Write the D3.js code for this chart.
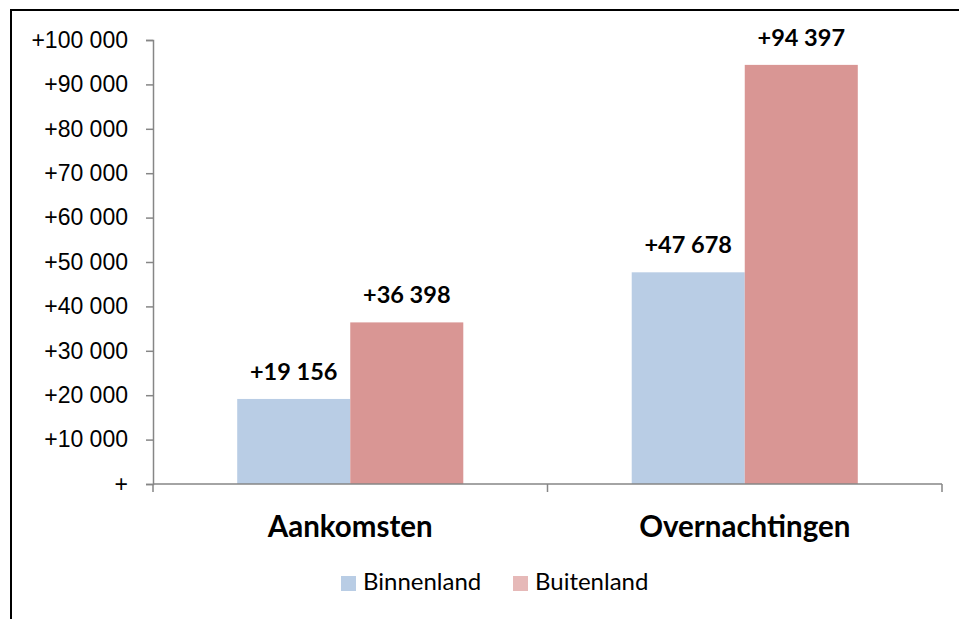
<!DOCTYPE html>
<html>
<head>
<meta charset="utf-8">
<script src="https://cdn.jsdelivr.net/npm/d3@7"></script>
<style>
  body { margin: 0; background: #fff; }
  svg { font-family: Lato, "Open Sans", sans-serif; }
</style>
</head>
<body>
<div id="chart"></div>
<script>
const categories = ["Aankomsten", "Overnachtingen"];
const series = ["Binnenland", "Buitenland"];
const binnenland = [19156, 47678];
const buitenland = [36398, 94397];
const yTicks = [0, 10000, 20000, 30000, 40000, 50000, 60000, 70000, 80000, 90000, 100000];

const colors = { Binnenland: "#B9CDE5", Buitenland: "#D99694" };
const legendColors = { Binnenland: "#B9CDE5", Buitenland: "#E6B9B8" };

const W = 959, H = 619;
const margin = { top: 40, right: 17, bottom: 135, left: 153 };
const width = W - margin.left - margin.right;
const height = H - margin.top - margin.bottom;

const svg = d3.select("#chart").append("svg")
  .attr("width", W)
  .attr("height", H);

// outer frame (right and bottom edges fall outside the picture)
svg.append("rect")
  .attr("x", 11).attr("y", 10)
  .attr("width", W + 10).attr("height", H + 10)
  .attr("fill", "none")
  .attr("stroke", "#000")
  .attr("stroke-width", 2);

const g = svg.append("g")
  .attr("transform", `translate(${margin.left},${margin.top})`);

const nl = d3.formatLocale({ decimal: ",", thousands: " ", grouping: [3], currency: ["", ""] });
const fmt = d => d === 0 ? "+" : "+" + nl.format(",")(d);

const y = d3.scaleLinear().domain([0, 100000]).range([height, 0]);

const x0 = d3.scaleBand().domain(categories).range([0, width]).paddingInner(0).paddingOuter(0);
const x1 = d3.scaleBand().domain(series).range([0, x0.bandwidth()]).paddingInner(0).paddingOuter(0.745);

const data = categories.map((c, i) => ({
  category: c,
  values: [
    { key: "Binnenland", value: binnenland[i] },
    { key: "Buitenland", value: buitenland[i] }
  ]
}));

// Y axis
const yAxis = g.append("g")
  .call(d3.axisLeft(y).tickValues(yTicks).tickFormat(fmt).tickSize(7).tickPadding(18));
yAxis.selectAll("line").attr("stroke", "#868686").attr("stroke-width", 1.5);
yAxis.select(".domain").attr("stroke", "#868686").attr("stroke-width", 1.5);
yAxis.selectAll("text").attr("font-size", 23).attr("fill", "#000");

// Bars
const groups = g.selectAll(".group")
  .data(data)
  .join("g")
  .attr("class", "group")
  .attr("transform", d => `translate(${x0(d.category)},0)`);

groups.selectAll("rect")
  .data(d => d.values)
  .join("rect")
  .attr("x", d => x1(d.key))
  .attr("y", d => y(d.value))
  .attr("width", x1.bandwidth())
  .attr("height", d => height - y(d.value))
  .attr("fill", d => colors[d.key]);

groups.selectAll(".value")
  .data(d => d.values)
  .join("text")
  .attr("class", "value")
  .attr("x", d => x1(d.key) + x1.bandwidth() / 2)
  .attr("y", d => y(d.value) - 19)
  .attr("text-anchor", "middle")
  .attr("font-size", 23.5)
  .attr("font-weight", "bold")
  .text(d => fmt(d.value));

// X axis
const xAxisG = g.append("g").attr("transform", `translate(0,${height})`);
xAxisG.append("line")
  .attr("x1", 0).attr("x2", width)
  .attr("stroke", "#868686").attr("stroke-width", 1.5);
xAxisG.selectAll(".xtick")
  .data([0, ...categories.map(c => x0(c) + x0.bandwidth())])
  .join("line")
  .attr("x1", d => d).attr("x2", d => d)
  .attr("y1", 0).attr("y2", 8)
  .attr("stroke", "#868686").attr("stroke-width", 1.5);
xAxisG.selectAll(".xlabel")
  .data(categories)
  .join("text")
  .attr("x", d => x0(d) + x0.bandwidth() / 2)
  .attr("y", 53)
  .attr("text-anchor", "middle")
  .attr("font-size", 29.5)
  .attr("font-weight", "bold")
  .text(d => d);

// Legend
const legendX = [341, 513];
const legend = svg.selectAll(".legend")
  .data(series)
  .join("g")
  .attr("class", "legend")
  .attr("transform", (d, i) => `translate(${legendX[i]},576)`);
legend.append("rect")
  .attr("width", 15).attr("height", 15)
  .attr("fill", d => legendColors[d]);
legend.append("text")
  .attr("x", 22).attr("y", 8)
  .attr("dominant-baseline", "middle")
  .attr("font-size", 24)
  .text(d => d);
</script>
</body>
</html>
